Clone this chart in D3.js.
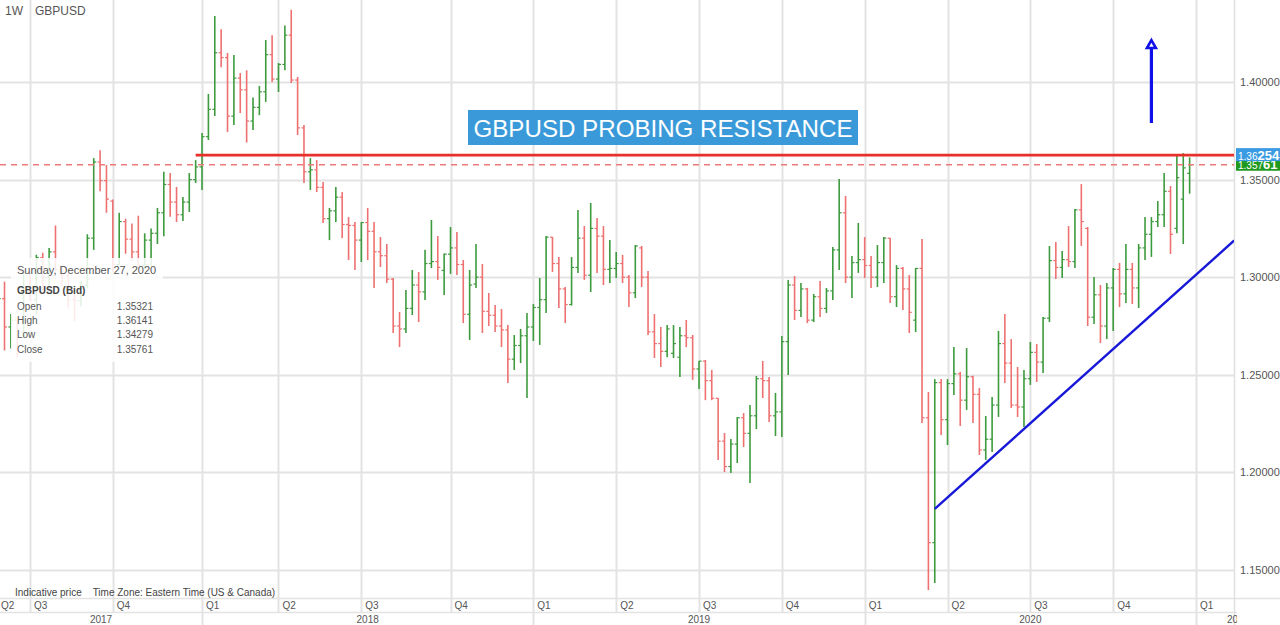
<!DOCTYPE html>
<html><head><meta charset="utf-8">
<script src="https://cdn.jsdelivr.net/npm/d3@7"></script>
<style>
html,body{margin:0;padding:0;background:#fff;overflow:hidden}
svg{display:block;font-family:"Liberation Sans",Arial,sans-serif}
</style></head>
<body><svg id="c" width="1280" height="625"></svg>
<script>
// ---- DATA (weekly bars, week starting Sunday 2017-05-28 .. 2020-12-27) ----
const firstWeek = "2017-05-28";
const lastWeek = "2020-12-27";
const open = [1.2880,1.2890,1.2745,1.2780,1.2720,1.3025,1.2885,1.3100,1.3000,1.3130,1.3040,1.3010,1.2885,1.2880,1.2960,1.3200,1.3590,1.3495,1.3390,1.3065,1.3285,1.3195,1.3130,1.3060,1.3190,1.3225,1.3330,1.3475,1.3385,1.3320,1.3385,1.3500,
1.3565,1.3720,1.3860,1.4150,1.4125,1.3825,1.4020,1.3960,1.3800,1.3870,1.3950,1.4140,1.4015,1.4090,1.4240,1.4010,1.3765,1.3540,1.3550,1.3460,1.3300,1.3340,1.3410,1.3270,1.3265,1.3190,1.3280,1.3235,1.3130,1.3110,1.2990,1.2750,1.2735,1.2840,1.2960,1.2925,1.3070,1.3080,1.3035,1.3118,1.3150,1.3065,1.2810,1.2965,1.3000,1.2825,1.2805,1.2750,1.2730,1.2580,1.2650,1.2700,
1.2745,1.2845,1.2885,1.3205,1.3070,1.2940,1.2860,1.3050,1.3200,1.3010,1.3250,1.3210,1.3040,1.3045,1.3070,1.3000,1.2920,1.3150,1.3000,1.2720,1.2660,1.2620,1.2610,1.2590,1.2700,1.2690,1.2530,1.2570,1.2470,1.2380,1.2160,1.2030,1.2145,1.2280,1.2200,1.2290,1.2480,1.2470,1.2290,1.2310,1.2670,1.2960,1.2830,1.2940,1.2780,1.2900,1.2840,1.2930,1.3140,1.3330,1.3000,1.3075,
1.3090,1.3060,1.3000,1.3075,1.3200,1.2900,1.3045,1.2940,1.2780,1.3045,1.2280,1.1640,1.2460,1.2270,1.2455,1.2505,1.2370,1.2490,1.2400,1.2115,1.2170,1.2345,1.2660,1.2560,1.2345,1.2335,1.2480,1.2615,1.2565,1.2790,1.3085,1.3050,1.3090,1.3080,1.3345,1.3250,1.2795,1.2910,1.2750,1.2945,1.3040,1.2915,1.3040,1.2945,1.3150,1.3220,1.3285,1.3320,1.3440,1.3250,1.3400,1.35321];
const high = [1.2917,1.2977,1.2812,1.2780,1.3030,1.3030,1.3115,1.3125,1.3150,1.3265,1.3060,1.3020,1.2935,1.2980,1.3220,1.3610,1.3650,1.3575,1.3398,1.3330,1.3300,1.3275,1.3315,1.3225,1.3250,1.3355,1.3540,1.3534,1.3462,1.3411,1.3534,1.3600,
1.3739,1.3939,1.4338,1.4270,1.4149,1.4138,1.4046,1.4060,1.3920,1.3980,1.4215,1.4240,1.4097,1.4290,1.4370,1.4026,1.3780,1.3610,1.3600,1.3488,1.3355,1.3462,1.3436,1.3308,1.3283,1.3283,1.3355,1.3283,1.3206,1.3170,1.2996,1.2822,1.2934,1.3037,1.3027,1.3140,1.3293,1.3211,1.3122,1.3257,1.3232,1.3088,1.3037,1.3170,1.3068,1.2919,1.2858,1.2837,1.2755,1.2704,1.2735,1.2817,
1.2863,1.2996,1.3211,1.3206,1.3103,1.2950,1.3103,1.3344,1.3262,1.3380,1.3303,1.3262,1.3190,1.3129,1.3114,1.3011,1.3165,1.3160,1.3032,1.2811,1.2745,1.2755,1.2755,1.2745,1.2781,1.2704,1.2571,1.2576,1.2525,1.2381,1.2202,1.2171,1.2284,1.2304,1.2345,1.2494,1.2571,1.2489,1.2407,1.2699,1.2986,1.3006,1.2970,1.2945,1.2914,1.2980,1.2945,1.3155,1.3503,1.3416,1.3108,1.3278,
1.3206,1.3108,1.3165,1.3206,1.3201,1.3062,1.3052,1.3011,1.3047,1.3196,1.2412,1.2478,1.2478,1.2478,1.2643,1.2515,1.2637,1.2495,1.2432,1.2289,1.2386,1.2725,1.2811,1.2683,1.2540,1.2525,1.2668,1.2658,1.2796,1.3160,1.3180,1.3134,1.3262,1.3349,1.3477,1.3257,1.3001,1.2960,1.2970,1.3047,1.3073,1.3170,1.3073,1.3170,1.3308,1.3308,1.3390,1.3534,1.3467,1.3626,1.3636,1.36141];
const low = [1.2770,1.2625,1.2635,1.2590,1.2690,1.2880,1.2810,1.2930,1.2930,1.3030,1.2955,1.2840,1.2775,1.2850,1.2945,1.3140,1.3440,1.3330,1.3027,1.3060,1.3120,1.3080,1.3040,1.3040,1.3060,1.3170,1.3210,1.3310,1.3283,1.3288,1.3334,1.3483,
1.3447,1.3703,1.3826,1.4075,1.3744,1.3780,1.3841,1.3690,1.3754,1.3830,1.3898,1.4000,1.3949,1.4060,1.3995,1.3728,1.3483,1.3447,1.3436,1.3278,1.3190,1.3283,1.3200,1.3088,1.3037,1.3078,1.3088,1.2945,1.3052,1.2970,1.2714,1.2642,1.2714,1.2806,1.2770,1.2883,1.3047,1.2986,1.2909,1.3017,1.3011,1.2765,1.2678,1.2945,1.2714,1.2750,1.2719,1.2642,1.2458,1.2525,1.2560,1.2381,
1.2673,1.2653,1.2817,1.3027,1.2842,1.2765,1.2855,1.3022,1.2986,1.2924,1.3022,1.2960,1.2970,1.2996,1.2970,1.2847,1.2893,1.2950,1.2704,1.2586,1.2540,1.2590,1.2586,1.2489,1.2642,1.2474,1.2427,1.2370,1.2370,1.2064,1.2002,1.1997,1.2048,1.2130,1.1946,1.2222,1.2381,1.2258,1.2186,1.2181,1.2499,1.2781,1.2796,1.2765,1.2770,1.2796,1.2817,1.2883,1.3037,1.2970,1.2893,1.3022,
1.2996,1.2945,1.2950,1.2970,1.2868,1.2847,1.2832,1.2714,1.2719,1.2253,1.1397,1.1433,1.2192,1.2140,1.2397,1.2238,1.2320,1.2253,1.2089,1.2064,1.2104,1.2284,1.2458,1.2330,1.2284,1.2233,1.2448,1.2463,1.2509,1.2770,1.2991,1.2996,1.3052,1.3047,1.3160,1.2750,1.2760,1.2663,1.2683,1.2724,1.2847,1.2868,1.2863,1.2842,1.3088,1.3104,1.3257,1.3257,1.3119,1.3225,1.3170,1.34279];
const close = [1.2890,1.2745,1.2780,1.2720,1.3025,1.2885,1.3100,1.3000,1.3130,1.3040,1.3010,1.2885,1.2880,1.2960,1.3200,1.3590,1.3495,1.3400,1.3065,1.3285,1.3195,1.3130,1.3060,1.3190,1.3225,1.3330,1.3475,1.3385,1.3320,1.3385,1.3500,1.3565,
1.3720,1.3860,1.4150,1.4125,1.3825,1.4020,1.3960,1.3800,1.3870,1.3950,1.4140,1.4015,1.4090,1.4240,1.4010,1.3765,1.3540,1.3550,1.3460,1.3300,1.3340,1.3410,1.3270,1.3265,1.3190,1.3280,1.3235,1.3130,1.3110,1.2990,1.2750,1.2735,1.2840,1.2960,1.2925,1.3070,1.3080,1.3050,1.3118,1.3150,1.3065,1.2810,1.2960,1.3000,1.2825,1.2805,1.2750,1.2730,1.2580,1.2650,1.2700,1.2745,
1.2845,1.2885,1.3205,1.3070,1.2940,1.2860,1.3050,1.3200,1.3010,1.3250,1.3210,1.3040,1.3045,1.3070,1.3000,1.2920,1.3160,1.3000,1.2720,1.2660,1.2620,1.2735,1.2660,1.2700,1.2690,1.2530,1.2570,1.2470,1.2380,1.2160,1.2030,1.2145,1.2280,1.2200,1.2290,1.2480,1.2470,1.2290,1.2310,1.2670,1.2960,1.2830,1.2940,1.2780,1.2900,1.2840,1.2930,1.3140,1.3330,1.3000,1.3075,1.3090,
1.3060,1.3000,1.3075,1.3200,1.2900,1.3045,1.2940,1.2820,1.3045,1.2280,1.1640,1.2460,1.2270,1.2455,1.2505,1.2370,1.2490,1.2400,1.2115,1.2170,1.2345,1.2660,1.2560,1.2345,1.2335,1.2480,1.2615,1.2565,1.2790,1.3085,1.3050,1.3090,1.3080,1.3345,1.3285,1.2795,1.2910,1.2750,1.2945,1.3040,1.2915,1.3040,1.2945,1.3150,1.3220,1.3285,1.3320,1.3440,1.3220,1.3510,1.3560,1.35761];

const yTicks = [1.15, 1.20, 1.25, 1.30, 1.35, 1.40];
const quarterLabels = ["Q1","Q2","Q3","Q4"];
const yearLabels = ["2017","2018","2019","2020","2021"];

const resistance = 1.36254;
const lastClose = 1.35761;
const resistanceStart = "2017-12-31";
const trendStart = {date:"2020-03-22", price:1.1813};
const trendEnd = {date:"2021-02-14", price:1.3188};
const arrowDate = "2020-11-15";
const arrowFrom = 1.379, arrowTo = 1.4215;
const titleText = "GBPUSD PROBING RESISTANCE";
const tipDate = "Sunday, December 27, 2020";
const tipTitle = "GBPUSD (Bid)";
const tipLabels = ["Open","High","Low","Close"];

// ---- CHART ----
const W = 1280, H = 625;
const plotR = 1234, plotB = 598;
const parse = d3.utcParse("%Y-%m-%d");
const svg = d3.select("#c");

const x = d3.scaleUtc().domain([parse("2017-07-02"), parse("2021-01-03")]).range([30, 1196]);
const y = d3.scaleLinear().domain([1.15, 1.40]).range([570, 82]);

const weeks = d3.utcSunday.range(parse(firstWeek), d3.utcDay.offset(parse(lastWeek), 1));
const bars = weeks.map((d, i) => ({date: d, o: open[i], h: high[i], l: low[i], c: close[i]})).filter(d => d.o != null);

const defs = svg.append("defs");
defs.append("clipPath").attr("id","plot").append("rect").attr("x",0).attr("y",0).attr("width",plotR).attr("height",plotB);
defs.append("clipPath").attr("id","axisx").append("rect").attr("x",0).attr("y",plotB).attr("width",1237).attr("height",H-plotB);

const gridC = "#e3e3e3";
// quarter grid lines (first Sunday of each quarter)
const qStarts = d3.utcMonth.every(3).range(parse("2017-04-01"), parse("2021-01-02")).map(d => ({q: d.getUTCMonth()/3, y: d.getUTCFullYear(), s: d3.utcSunday.ceil(d)}));
const grid = svg.append("g");
grid.selectAll("line.v").data(qStarts).join("line")
  .attr("x1", d => Math.round(x(d.s))+0.5).attr("x2", d => Math.round(x(d.s))+0.5)
  .attr("y1", 0).attr("y2", 612).attr("stroke", gridC).attr("stroke-width", 2);
grid.selectAll("line.h").data(yTicks).join("line")
  .attr("x1", 0).attr("x2", plotR).attr("y1", d => Math.round(y(d))+0.5).attr("y2", d => Math.round(y(d))+0.5)
  .attr("stroke", gridC).attr("stroke-width", 2);
// axis frame lines
svg.append("line").attr("x1",0).attr("x2",W).attr("y1",plotB+0.5).attr("y2",plotB+0.5).attr("stroke","#e3e3e3").attr("stroke-width",1.5);
svg.append("line").attr("x1",0).attr("x2",1237).attr("y1",612.5).attr("y2",612.5).attr("stroke","#e3e3e3").attr("stroke-width",1.5);
svg.append("line").attr("x1",plotR+0.5).attr("x2",plotR+0.5).attr("y1",0).attr("y2",H).attr("stroke","#e0e0e0").attr("stroke-width",1.5);

// year separators in the year row
const yStarts = qStarts.filter(d => d.q === 0);
svg.selectAll("line.ys").data(yStarts).join("line")
  .attr("x1", d => Math.round(x(d.s))+0.5).attr("x2", d => Math.round(x(d.s))+0.5)
  .attr("y1", 612).attr("y2", H).attr("stroke", gridC).attr("stroke-width", 2);

// y axis labels
svg.append("g").selectAll("text").data(yTicks).join("text")
  .attr("x", 1240).attr("y", d => y(d) + 4).attr("font-size", 11).attr("fill", "#555")
  .text(d => d3.format(".5f")(d));

// x axis quarter labels
const ax = svg.append("g").attr("clip-path","url(#axisx)");
ax.selectAll("text.q").data(qStarts).join("text")
  .attr("x", d => Math.max(x(d.s) + 4, 1)).attr("y", 609).attr("font-size", 10).attr("fill", "#555")
  .text(d => quarterLabels[d.q]);
// year labels centered within each year span
const yrBounds = yearLabels.map((lab, i) => {
  const a = i === 0 ? 0 : x(yStarts.find(s => s.y === +lab).s);
  const nx = yStarts.find(s => s.y === +lab + 1);
  const b = nx ? x(nx.s) : 1280;
  return {lab, cx: (a + b) / 2};
});
ax.selectAll("text.y").data(yrBounds).join("text")
  .attr("x", d => d.cx).attr("y", 623).attr("text-anchor","middle").attr("font-size", 10).attr("fill", "#555")
  .text(d => d.lab);

// ---- OHLC bars ----
const up = "#3d9a3d", dn = "#ee7070";
const gb = svg.append("g").attr("clip-path","url(#plot)");
const bg = gb.selectAll("g.bar").data(bars).join("g")
  .attr("stroke", d => d.c >= d.o ? up : dn).attr("stroke-width", 1.6);
bg.append("line").attr("x1", d => x(d.date)).attr("x2", d => x(d.date)).attr("y1", d => y(d.h)).attr("y2", d => y(d.l));
bg.append("line").attr("x1", d => x(d.date) - 2.5).attr("x2", d => x(d.date)).attr("y1", d => y(d.o)).attr("y2", d => y(d.o)).attr("stroke-width",1.2);
bg.append("line").attr("x1", d => x(d.date)).attr("x2", d => x(d.date) + 2.5).attr("y1", d => y(d.c)).attr("y2", d => y(d.c)).attr("stroke-width",1.2);

// dashed last price line
svg.append("line").attr("x1", 0).attr("x2", plotR).attr("y1", y(lastClose)).attr("y2", y(lastClose))
  .attr("stroke", "#ee7a7a").attr("stroke-width", 1.3).attr("stroke-dasharray", "6,5");
// resistance line
svg.append("line").attr("x1", x(parse(resistanceStart))).attr("x2", plotR).attr("y1", y(resistance)).attr("y2", y(resistance))
  .attr("stroke", "#e8302a").attr("stroke-width", 2.6);
// trend line
svg.append("line").attr("x1", x(parse(trendStart.date))).attr("y1", y(trendStart.price))
  .attr("x2", x(parse(trendEnd.date))).attr("y2", y(trendEnd.price))
  .attr("stroke", "#1818d8").attr("stroke-width", 2.4).attr("clip-path","url(#plot)");
// arrow
const axp = x(parse(arrowDate));
svg.append("line").attr("x1", axp).attr("x2", axp).attr("y1", y(arrowFrom)).attr("y2", y(arrowTo) + 8)
  .attr("stroke", "#1010e8").attr("stroke-width", 3.2);
svg.append("path").attr("d", `M${axp},${y(arrowTo)} L${axp-4.5},${y(arrowTo)+8} L${axp+4.5},${y(arrowTo)+8} Z`)
  .attr("fill", "#fff").attr("stroke", "#1010e8").attr("stroke-width", 2.6).attr("stroke-linejoin","miter");

// title box
svg.append("rect").attr("x", 468).attr("y", 110).attr("width", 390).attr("height", 35).attr("fill", "#3a9ad9");
const tt = svg.append("text").attr("x", 663).attr("y", 137).attr("text-anchor","middle").attr("fill","#fff")
  .attr("font-size", 24).text(titleText);
const tl = tt.node().getComputedTextLength();
if (tl > 0) tt.attr("textLength", 379).attr("lengthAdjust","spacingAndGlyphs");

// price labels on axis
const gl = svg.append("g");
gl.append("rect").attr("x", 1236).attr("y", y(lastClose) - 6).attr("width", 44).attr("height", 12).attr("fill", "#1f9a1f");
const t2 = gl.append("text").attr("x", 1238).attr("y", y(lastClose) + 4.5).attr("fill", "#fff");
t2.append("tspan").attr("font-size", 10).text(d3.format(".5f")(lastClose).slice(0,5));
t2.append("tspan").attr("font-size", 13).attr("font-weight","bold").text(d3.format(".5f")(lastClose).slice(5));
gl.append("rect").attr("x", 1236).attr("y", y(resistance) - 7).attr("width", 44).attr("height", 13).attr("fill", "#3b9be2");
const t1 = gl.append("text").attr("x", 1238).attr("y", y(resistance) + 4.5).attr("fill", "#fff");
t1.append("tspan").attr("font-size", 10).text(d3.format(".5f")(resistance).slice(0,4));
t1.append("tspan").attr("font-size", 13).attr("font-weight","bold").text(d3.format(".5f")(resistance).slice(4));

// top-left
svg.append("text").attr("x", 5).attr("y", 15).attr("font-size", 12).attr("fill", "#555").text("1W");
svg.append("text").attr("x", 35).attr("y", 15).attr("font-size", 12).attr("fill", "#555").text("GBPUSD");
// footer note
svg.append("text").attr("x", 15).attr("y", 596).attr("font-size", 10).attr("fill", "#444")
  .attr("xml:space","preserve").text("Indicative price    Time Zone: Eastern Time (US & Canada)");

// tooltip
const last = bars[bars.length - 1];
const tg = svg.append("g");
tg.append("rect").attr("x", 11).attr("y", 258).attr("width", 152).attr("height", 104).attr("fill", "rgba(255,255,255,0.86)");
tg.append("text").attr("x", 17).attr("y", 274).attr("font-size", 11).attr("fill", "#555").text(tipDate);
tg.append("text").attr("x", 17).attr("y", 294).attr("font-size", 10).attr("font-weight","bold").attr("fill", "#444").text(tipTitle);
const tv = [last.o, last.h, last.l, last.c];
tipLabels.forEach((lab, i) => {
  tg.append("text").attr("x", 17).attr("y", 310 + i*14.2).attr("font-size", 10).attr("fill", "#555").text(lab);
  tg.append("text").attr("x", 153).attr("y", 310 + i*14.2).attr("font-size", 10).attr("fill", "#555").attr("text-anchor","end").text(d3.format(".5f")(tv[i]));
});
</script></body></html>
